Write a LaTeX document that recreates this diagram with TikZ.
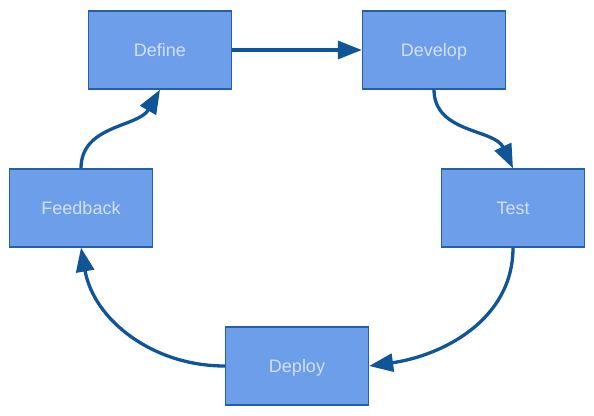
\documentclass[tikz,border=0pt]{standalone}
\usepackage{fontspec}
\setmainfont{Liberation Sans}
\usetikzlibrary{arrows.meta}
\definecolor{boxfill}{HTML}{6C9EE9}
\definecolor{boxline}{HTML}{2260AA}
\definecolor{flow}{HTML}{0F5598}
\definecolor{boxtext}{HTML}{D3E1F7}

\begin{document}
\begin{tikzpicture}[x=1pt, y=-1pt,
	arrows={-Triangle[length=24pt,width=18pt]},
	stage/.style={draw=boxline, line width=1.3pt, fill=boxfill, text=boxtext,
		minimum width=143pt, minimum height=78pt, inner sep=0pt,
		text height=13pt, text depth=0pt,
		font=\fontsize{18}{21}\selectfont},
	flowline/.style={draw=flow, line width=3.3pt}]
	\useasboundingbox (0,0) rectangle (594,415);
	\node[stage] (Def) at (160,50) {Define};
	\node[stage] (Dev) at (434,50) {Develop};
	\node[stage] (Tst) at (513,208) {Test};
	\node[stage] (Dep) at (297,366) {Deploy};
	\node[stage] (Fbk) at (81,208) {Feedback};
	\draw[flowline] (Def) to (Dev);
	\draw[flowline] (Dev.south) to[out=-90, in=115] (Tst.north);
	\draw[flowline] (Tst.south) to[out=-90, in=8] (Dep.east);
	\draw[flowline] (Dep.west) to[out=180, in=-80] (Fbk.south);
	\draw[flowline] (Fbk.north) to[out=90, in=-120] (Def.south);
\end{tikzpicture}
\end{document}
